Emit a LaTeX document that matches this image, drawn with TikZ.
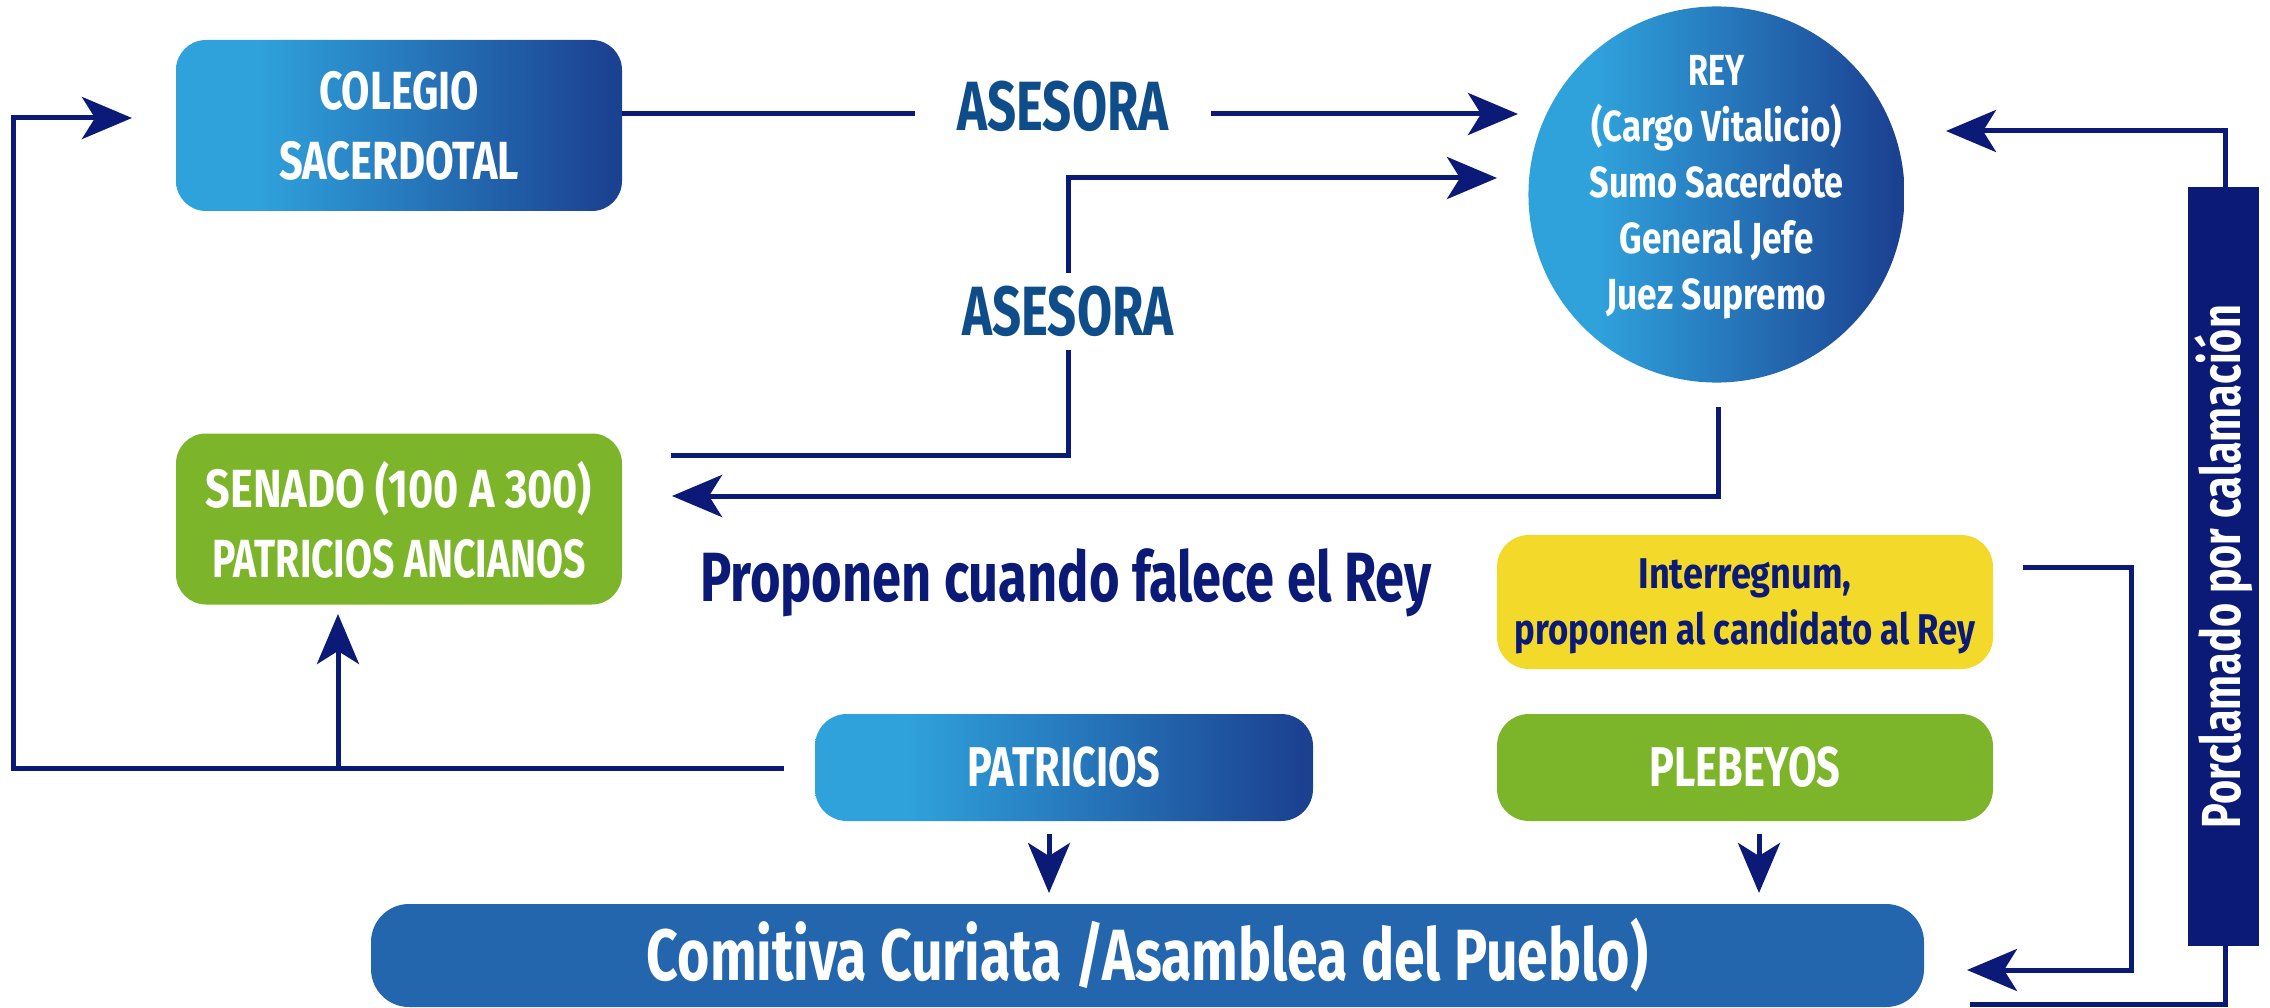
\documentclass[tikz,border=0pt]{standalone}
\usepackage{fontspec}
\setmainfont{Fira Sans}
\usetikzlibrary{arrows.meta}
\definecolor{navy}{RGB}{11,26,118}
\definecolor{asblue}{RGB}{14,76,138}
\definecolor{gl}{RGB}{47,162,220}
\definecolor{gd}{RGB}{27,65,145}
\definecolor{grn}{RGB}{125,181,42}
\definecolor{ylw}{RGB}{242,217,42}
\definecolor{cblue}{RGB}{36,102,173}
\pgfdeclarehorizontalshading{bluegrad}{100bp}{color(0bp)=(gl); color(34bp)=(gl); color(74bp)=(gd); color(100bp)=(gd)}
\newcommand{\sq}[2]{\resizebox{#1}{\height}{#2}}
\begin{document}
\begin{tikzpicture}[x=1pt,y=-1pt,
  box/.style={rectangle, inner sep=0pt, align=center, text=white, rounded corners=#1},
  conn/.style={draw=navy, line width=5pt},
  tip/.style={-{Stealth[length=50pt,width=42pt,inset=13pt]}},
  lbl/.style={text=asblue, inner xsep=42pt, inner ysep=14.5pt, text height=48pt, text depth=0pt,
    font=\bfseries\fontsize{69.7}{80}\selectfont}
]
\useasboundingbox (0,0) rectangle (2270,1008);

% boxes
\node[box=30pt, shading=bluegrad, minimum width=446pt, minimum height=171pt,
  text depth=0pt, font=\bfseries\fontsize{53.7}{70}\selectfont]
  (colegio) at (399,125.5) {\sq{160pt}{COLEGIO}\\\sq{240pt}{SACERDOTAL}};
\node[box=30pt, fill=grn, minimum width=446pt, minimum height=171pt,
  text depth=0pt, font=\bfseries\fontsize{53.7}{70}\selectfont]
  (senado) at (399,519) {\sq{386pt}{SENADO (100 A 300)}\\\sq{373pt}{PATRICIOS ANCIANOS}};
\node[circle, inner sep=0pt, minimum size=376pt, shading=bluegrad, align=center, text=white,
  text depth=25pt, font=\bfseries\fontsize{43.5}{56}\selectfont]
  (rey) at (1716.5,194.5) {\sq{56pt}{REY}\\\sq{251pt}{(Cargo Vitalicio)}\\\sq{254pt}{Sumo Sacerdote}\\\sq{194pt}{General Jefe}\\\sq{220pt}{Juez Supremo}};
\node[box=32pt, fill=ylw, text=navy, minimum width=496pt, minimum height=134pt,
  text depth=0pt, font=\bfseries\fontsize{43}{56}\selectfont]
  (inter) at (1745,602) {\sq{213pt}{Interregnum,}\\\sq{461pt}{proponen al candidato al Rey}};
\node[box=32pt, fill=grn, minimum width=496pt, minimum height=107pt,
  text height=38.5pt, text depth=0pt, font=\bfseries\fontsize{56}{60}\selectfont]
  (plebeyos) at (1745,767.5) {\sq{191pt}{PLEBEYOS}};
\node[box=32pt, shading=bluegrad, minimum width=498pt, minimum height=107pt,
  text height=38.5pt, text depth=0pt, font=\bfseries\fontsize{56}{60}\selectfont]
  (patricios) at (1064,767.5) {\sq{193pt}{PATRICIOS}};
\node[box=38pt, fill=cblue, minimum width=1553pt, minimum height=103pt,
  text height=50pt, text depth=0pt, font=\bfseries\fontsize{72.6}{80}\selectfont]
  (comitiva) at (1147.5,955.5) {\sq{1001pt}{Comitiva Curiata /Asamblea del Pueblo)}};
\node[rectangle, fill=navy, text=white, inner sep=0pt, rotate=90,
  minimum width=759pt, minimum height=71pt, font=\bfseries\fontsize{55}{60}\selectfont]
  (bar) at (2223.5,566.5) {\sq{523pt}{Porclamado por calamación}};
\node[anchor=base west, inner sep=0pt, text=navy, font=\bfseries\fontsize{69.7}{80}\selectfont]
  (prop) at (700,601) {\sq{731pt}{Proponen cuando falece el Rey}};

% labels on connectors
\node[lbl] (as1) at (1063,107) {\sq{211pt}{ASESORA}};
\node[lbl] (as2) at (1068,311.5) {\sq{211pt}{ASESORA}};

% coordinates
\coordinate (t1) at (1518,114);
\coordinate (s0) at (671,455);
\coordinate (t2) at (1497,178);
\coordinate (r0) at (1718,407);
\coordinate (t3) at (672,496);
\coordinate (p0) at (784,768);
\coordinate (lc) at (13,768);
\coordinate (t4) at (132,118);
\coordinate (bj) at (338,768);
\coordinate (t5) at (338,614);
\coordinate (pa) at (1049,834);
\coordinate (pb) at (1049,893);
\coordinate (qa) at (1759,834);
\coordinate (qb) at (1759,893);
\coordinate (i0) at (2023,567);
\coordinate (ic) at (2131,970);
\coordinate (t7) at (1967,970);
\coordinate (b0) at (2225,190);
\coordinate (t6) at (1946,131);
\coordinate (b1) at (2225,943);
\coordinate (bz) at (1970,1004);

% connectors
\draw[conn] (colegio.east |- t1) -- (as1.west |- t1);
\draw[conn,tip] (as1.east |- t1) -- (t1);
\draw[conn] (s0) -| (as2.south);
\draw[conn,tip] (as2.north) |- (t2);
\draw[conn,tip] (r0) |- (t3);
\draw[conn,tip] (p0) -- (lc) |- (t4);
\draw[conn,tip] (bj) -- (t5);
\draw[conn,tip] (pa) -- (pb);
\draw[conn,tip] (qa) -- (qb);
\draw[conn,tip] (i0) -| (ic) -- (t7);
\draw[conn,tip] (b0) |- (t6);
\draw[conn] (b1) |- (bz);
\end{tikzpicture}
\end{document}
